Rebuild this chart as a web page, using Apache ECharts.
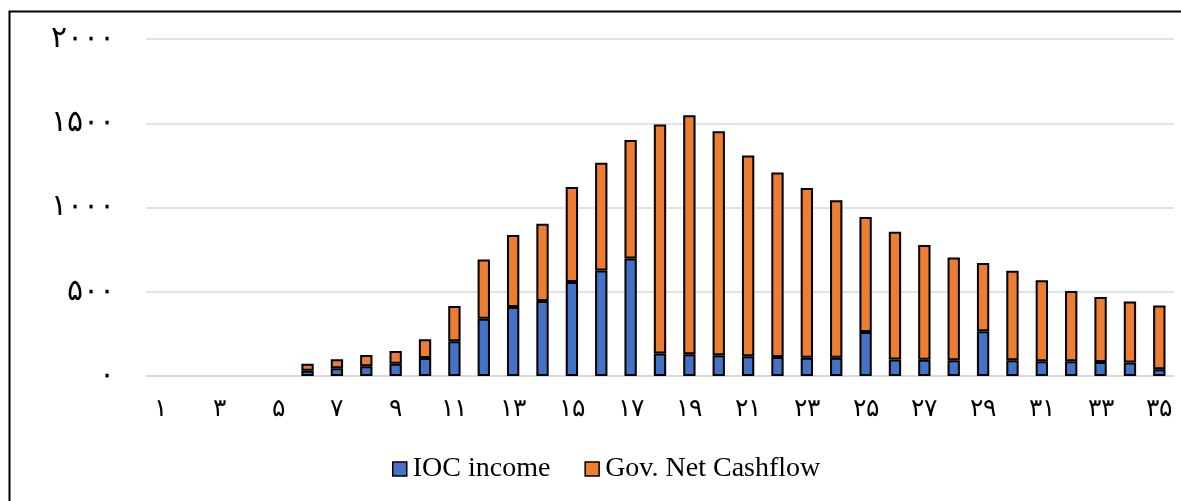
<!DOCTYPE html>
<html>
<head>
<meta charset="utf-8">
<script src="https://cdn.jsdelivr.net/npm/echarts@6/dist/echarts.min.js"></script>
<style>
  html, body { margin: 0; padding: 0; background: #fff; }
  #chart { width: 1181px; height: 501px; }
</style>
</head>
<body>
<div id="chart"></div>
<script>
// Year index labels (Persian digits)
const categories = ['۱','۲','۳','۴','۵','۶','۷','۸','۹','۱۰','۱۱','۱۲','۱۳','۱۴','۱۵','۱۶','۱۷','۱۸','۱۹','۲۰','۲۱','۲۲','۲۳','۲۴','۲۵','۲۶','۲۷','۲۸','۲۹','۳۰','۳۱','۳۲','۳۳','۳۴','۳۵'];

// IOC income per year
const iocIncome = [0,0,0,0,0,31,46,58,73,107,206,340,410,445,558,626,697,133,129,123,117,113,109,109,261,98,97,93,265,93,87,87,83,80,40];

// Government net cashflow per year (stacked on top of IOC income)
const govNetCashflow = [0,0,0,0,0,42,53,67,75,111,210,351,427,458,564,640,703,1360,1419,1330,1192,1095,1006,934,683,758,681,610,406,531,481,418,386,362,378];

// Value axis ticks
const yTicks = [0, 500, 1000, 1500, 2000];

const seriesNames = ['IOC income', 'Gov. Net Cashflow'];

const faDigits = ['۰','۱','۲','۳','۴','۵','۶','۷','۸','۹'];
const toFa = v => String(v).replace(/[0-9]/g, d => faDigits[+d]);
// empty years draw no bar at all
const asBars = arr => arr.map(v => (v === 0 ? '-' : v));

const chart = echarts.init(document.getElementById('chart'));
const barStyle = color => ({ color: color, borderColor: '#000', borderWidth: 2 });

chart.setOption({
  animation: false,
  textStyle: { fontFamily: 'Liberation Serif, DejaVu Serif, serif' },
  graphic: [{
    type: 'polyline',
    shape: { points: [[9.5, 505], [9.5, 11.5], [1185, 11.5]] },
    style: { fill: 'none', stroke: '#000', lineWidth: 2 },
    silent: true
  }],
  grid: { left: 146, right: 7, top: 39, bottom: 125, containLabel: false },
  xAxis: {
    type: 'category',
    data: categories,
    axisTick: { show: false },
    axisLine: { lineStyle: { color: '#d9d9d9', width: 1.5 } },
    axisLabel: { interval: 1, color: '#000', fontSize: 25, margin: 21 }
  },
  yAxis: {
    type: 'value',
    min: yTicks[0],
    max: yTicks[yTicks.length - 1],
    interval: yTicks[1] - yTicks[0],
    axisLine: { show: false },
    axisTick: { show: false },
    splitLine: { lineStyle: { color: '#d9d9d9', width: 1.5 } },
    axisLabel: { color: '#000', fontSize: 30, margin: 31, formatter: v => toFa(v) }
  },
  legend: {
    top: 455,
    left: 392,
    padding: 0,
    icon: 'rect',
    itemWidth: 14,
    itemHeight: 14,
    itemGap: 34,
    itemStyle: { borderColor: '#000', borderWidth: 1.5 },
    textStyle: { fontSize: 28, color: '#000', padding: [0, 0, 0, 1] },
    data: seriesNames
  },
  series: [
    {
      name: seriesNames[0],
      type: 'bar',
      stack: 'total',
      barWidth: '42%',
      data: asBars(iocIncome),
      itemStyle: barStyle('#4472C4')
    },
    {
      name: seriesNames[1],
      type: 'bar',
      stack: 'total',
      barWidth: '42%',
      data: asBars(govNetCashflow),
      itemStyle: barStyle('#ED7D31')
    }
  ]
});
</script>
</body>
</html>
